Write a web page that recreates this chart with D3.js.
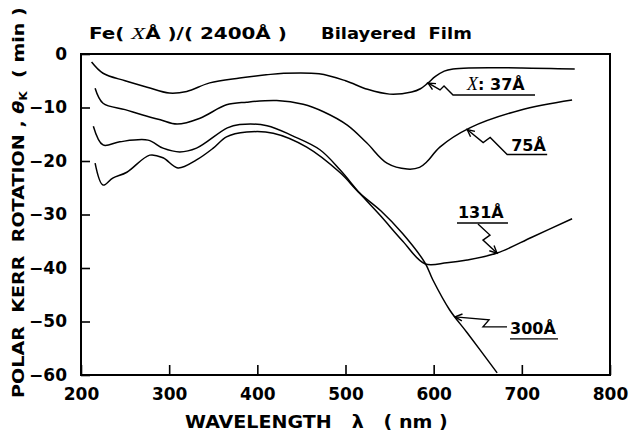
<!DOCTYPE html>
<html>
<head>
<meta charset="utf-8">
<script src="https://cdn.jsdelivr.net/npm/d3@7"></script>
<style>
  body { margin: 0; background: #fff; }
  text { font-family: "DejaVu Sans", sans-serif; font-weight: bold; fill: #000; white-space: pre; }
</style>
</head>
<body>
<svg id="chart"></svg>
<script>
// wavelength (nm) and Kerr rotation (min) for each Fe thickness
const wl37   = [212, 225, 250, 275, 300, 320, 346, 380, 410, 430, 470, 500, 525, 550, 575, 585, 593, 602, 612, 622, 640, 700, 760];
const kerr37 = [-1.5, -3.6, -5.0, -6.2, -7.3, -7.0, -5.4, -4.5, -3.9, -3.6, -3.7, -5.0, -6.6, -7.5, -7.1, -6.5, -5.5, -4.2, -3.2, -2.8, -2.6, -2.6, -2.8];

const wl75   = [216, 225, 250, 270, 290, 309, 335, 365, 388, 422, 452, 475, 502, 524, 547, 570, 584, 592, 607, 641, 698, 757];
const kerr75 = [-6.4, -9.2, -10.4, -11.4, -12.3, -13.1, -12.0, -9.5, -9.0, -8.7, -9.4, -10.8, -13.3, -16.6, -20.4, -21.5, -21.2, -20.2, -17.4, -13.8, -10.5, -8.6];

const wl131   = [214, 225, 244, 276, 293, 312, 331, 366, 380, 411, 440, 471, 494, 516, 540, 565, 590, 615, 638, 672, 712, 757];
const kerr131 = [-13.5, -17.0, -16.4, -16.1, -17.6, -18.3, -17.6, -13.8, -13.2, -13.4, -15.3, -17.9, -21.7, -26.0, -30.3, -35.0, -39.2, -39.0, -38.5, -37.2, -34.2, -30.8];

const wl300   = [216, 225, 236, 252, 278, 293, 310, 331, 350, 365, 388, 418, 456, 494, 516, 540, 565, 590, 599, 618, 638, 672];
const kerr300 = [-20.4, -24.5, -23.2, -22.1, -18.9, -19.4, -21.3, -19.8, -17.6, -15.5, -14.6, -14.8, -17.4, -22.2, -26.0, -29.3, -33.6, -39.0, -42.2, -47.8, -52.1, -59.6];

const thickness = ["37Å", "75Å", "131Å", "300Å"];
const xTicks = [200, 300, 400, 500, 600, 700, 800];
const yTicks = [0, -10, -20, -30, -40, -50, -60];

// wavelength where each label's arrow touches its curve
const arrowAt = [593.6, 638, 671.8, 624.2];

const series = [
  { name: thickness[0], wl: wl37, k: kerr37 },
  { name: thickness[1], wl: wl75, k: kerr75 },
  { name: thickness[2], wl: wl131, k: kerr131 },
  { name: thickness[3], wl: wl300, k: kerr300 }
];

const W = 629, H = 431;
const margin = { top: 54, left: 81, right: 19, bottom: 56 };
const width = W - margin.left - margin.right;
const height = H - margin.top - margin.bottom;

const svg = d3.select('#chart').attr('width', W).attr('height', H);

const x = d3.scaleLinear().domain([200, 800]).range([0, width]);
const y = d3.scaleLinear().domain([-60, 0]).range([height, 0]);

const chart = svg.append('g')
    .attr('transform', `translate(${margin.left},${margin.top})`);

// axes (ticks point inward, frame drawn separately)
const yAxisG = chart.append('g')
    .call(d3.axisLeft(y).tickValues(yTicks).tickSizeInner(-9).tickSizeOuter(0).tickPadding(14));
const xAxisG = chart.append('g')
    .attr('transform', `translate(0,${height})`)
    .call(d3.axisBottom(x).tickValues(xTicks).tickSizeInner(-10).tickSizeOuter(0).tickPadding(13));

[yAxisG, xAxisG].forEach(g => {
  g.select('.domain').remove();
  g.selectAll('line').attr('stroke', '#000').attr('stroke-width', 1.6);
  g.selectAll('text')
    .style('font-family', '"DejaVu Sans", sans-serif')
    .style('font-weight', 'bold')
    .style('font-size', '17px')
    .attr('fill', '#000');
});

// frame
chart.append('rect')
    .attr('width', width)
    .attr('height', height)
    .attr('fill', 'none')
    .attr('stroke', '#000')
    .attr('stroke-width', 2);

// curves
const line = d3.line()
    .x(d => x(d[0]))
    .y(d => y(d[1]))
    .curve(d3.curveCatmullRom.alpha(0.5));

chart.selectAll('.curve')
  .data(series)
  .join('path')
    .attr('class', 'curve')
    .attr('fill', 'none')
    .attr('stroke', '#000')
    .attr('stroke-width', 1.5)
    .attr('stroke-linejoin', 'round')
    .attr('d', d => line(d.wl.map((w, i) => [w, d.k[i]])));

// labels with zig-zag arrows (offsets in px from the arrow tip)
const callouts = [
  { zig: [[0, 0], [12, 7], [16, 3], [25, 12], [107, 12]], under: null, text: [39, 7], italicX: true },
  { zig: [[0, 0], [16, 13], [23, 8], [40, 25], [80, 25]], under: null, text: [44, 21] },
  { zig: [[0, 0], [-14, -13], [-7, -18], [-19, -29]], under: [[-40, -30], [11, -30]], text: [-39, -35] },
  { zig: [[0, 0], [34, 3], [28, 10], [52, 10]], under: [[55, 22], [103, 22]], text: [55, 17] }
];

const ann = chart.append('g');
series.forEach((s, i) => {
  const c = callouts[i];
  const tipY = d3.scaleLinear().domain(s.wl).range(s.k)(arrowAt[i]);
  const tx = x(arrowAt[i]), ty = y(tipY);
  const g = ann.append('g').attr('transform', `translate(${tx},${ty})`);
  const pl = d3.line();
  g.append('path').attr('d', pl(c.zig))
      .attr('fill', 'none').attr('stroke', '#000').attr('stroke-width', 1.4);
  if (c.under) {
    g.append('path').attr('d', pl(c.under))
        .attr('fill', 'none').attr('stroke', '#000').attr('stroke-width', 1.4);
  }
  // arrow head
  const dx = c.zig[1][0], dy = c.zig[1][1];
  const a = Math.atan2(dy, dx);
  const head = [-0.45, 0.45].map(o => [Math.cos(a + o) * 8, Math.sin(a + o) * 8]);
  g.append('path').attr('d', pl([head[0], [0, 0], head[1]]))
      .attr('fill', 'none').attr('stroke', '#000').attr('stroke-width', 1.4);

  const t = g.append('text')
      .attr('x', c.text[0]).attr('y', c.text[1])
      .style('font-size', '16px');
  if (c.italicX) {
    t.append('tspan').text('X')
        .style('font-family', '"Liberation Serif", serif')
        .style('font-style', 'italic').style('font-weight', 'normal').style('font-size', '18px');
    t.append('tspan').text(': ' + s.name);
  } else {
    t.text(s.name);
  }
});

// stretch a text to span a given length (extended typeface look)
function fitText(g, len) {
  const t = g.select('text');
  const w = t.node().getComputedTextLength();
  t.attr('transform', `scale(${len / w},1)`);
}

// title
const title1 = svg.append('g').attr('transform', 'translate(89,39)');
const tt = title1.append('text').style('font-size', '15px');
tt.append('tspan').text('Fe( ');
tt.append('tspan').text('X')
    .style('font-family', '"Liberation Serif", serif')
    .style('font-style', 'italic').style('font-weight', 'normal').style('font-size', '17px');
tt.append('tspan').text('Å )/( 2400Å )');
fitText(title1, 198);

const title2 = svg.append('g').attr('transform', 'translate(321,39)');
title2.append('text').style('font-size', '15px').text('Bilayered  Film');
fitText(title2, 151);

// x axis title
const xTitle = svg.append('g').attr('transform', 'translate(185,428)');
xTitle.append('text').style('font-size', '17px').text('WAVELENGTH   λ   ( nm )');
fitText(xTitle, 263);

// y axis title
const yTitle = svg.append('g').attr('transform', 'translate(24,398) rotate(-90)');
const yt = yTitle.append('text').style('font-size', '16px');
yt.append('tspan').text('POLAR  KERR  ROTATION , ');
yt.append('tspan').text('θ').style('font-style', 'italic');
yt.append('tspan').text('K').style('font-size', '10px').attr('dy', 3);
yt.append('tspan').text('  ( min )').attr('dy', -3);
fitText(yTitle, 391);
</script>
</body>
</html>
